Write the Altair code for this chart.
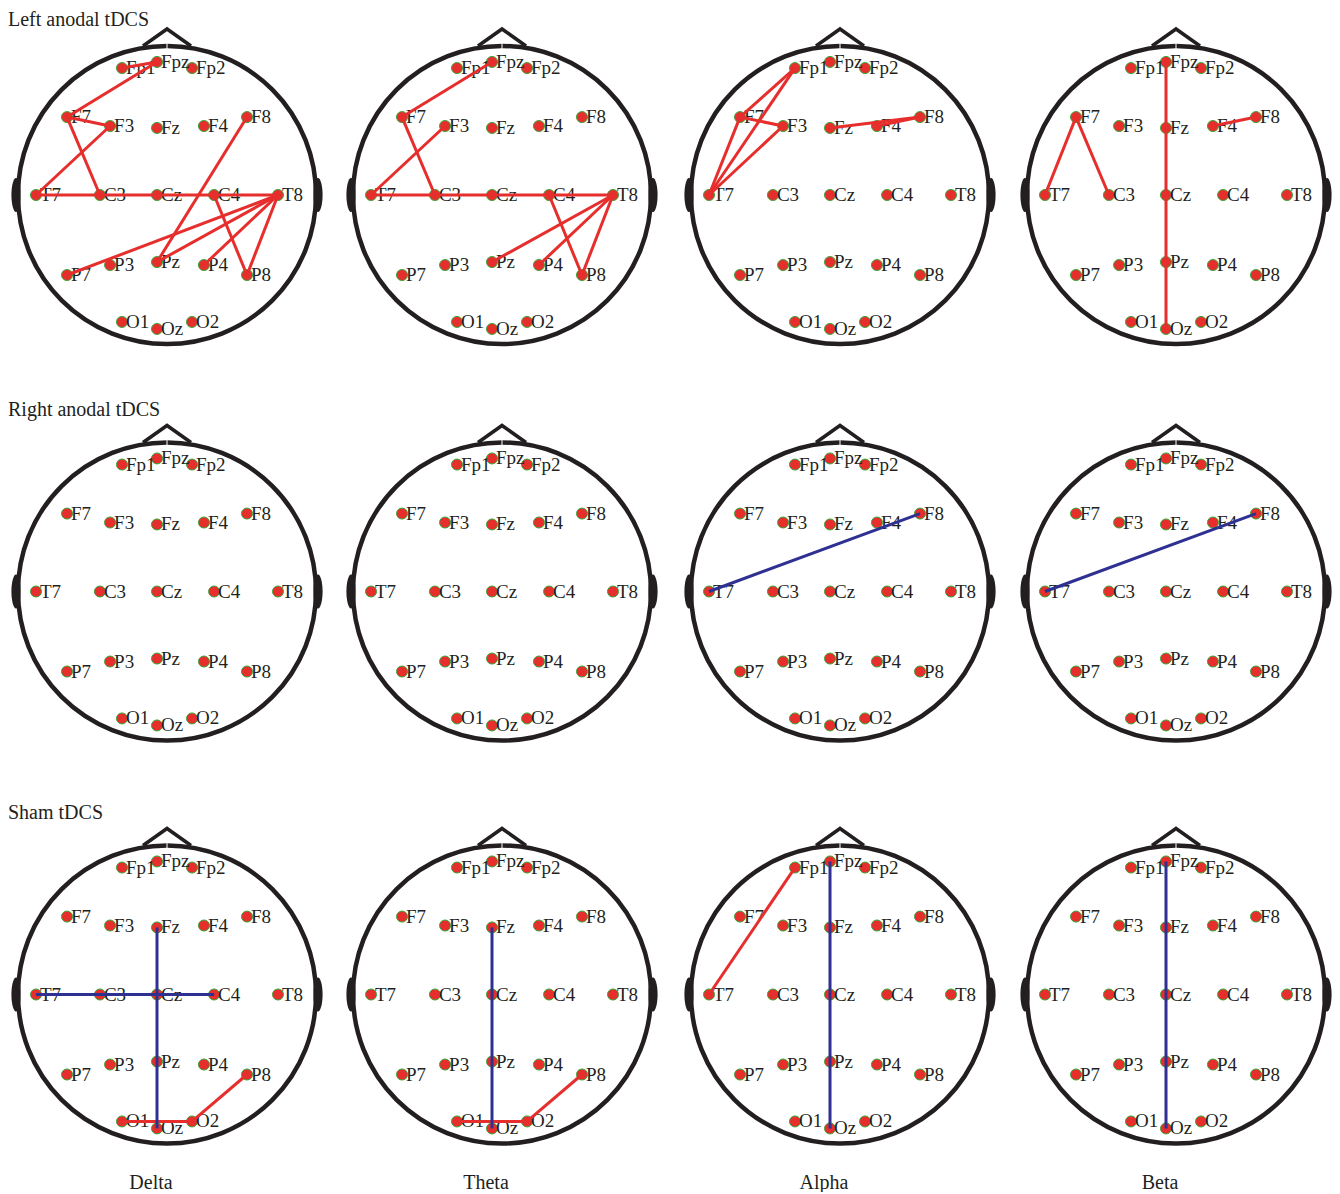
import altair as alt
import pandas as pd

# ------------------------------------------------------------------ data
ROW_TITLES = ["Left anodal tDCS", "Right anodal tDCS", "Sham tDCS"]
BANDS = ["Delta", "Theta", "Alpha", "Beta"]

ELECTRODES = ["Fp1", "Fpz", "Fp2",
              "F7", "F3", "Fz", "F4", "F8",
              "T7", "C3", "Cz", "C4", "T8",
              "P7", "P3", "Pz", "P4", "P8",
              "O1", "Oz", "O2"]
# montage positions, head radius = 1, origin at Cz, x to the right, y to the nose
EL_X = [-0.235, 0.0, 0.235,
        -0.604, -0.315, 0.0, 0.315, 0.604,
        -0.812, -0.383, 0.0, 0.383, 0.812,
        -0.604, -0.315, 0.0, 0.315, 0.604,
        -0.235, 0.0, 0.235]
EL_Y = [0.852, 0.893, 0.852,
        0.523, 0.463, 0.450, 0.463, 0.523,
        0.0, 0.0, 0.0, 0.0, 0.0,
        -0.537, -0.470, -0.450, -0.470, -0.537,
        -0.852, -0.899, -0.852]

# significant connections: condition row, band, electrode pair, direction
CONN_ROW = [0]*12 + [0]*8 + [0]*7 + [0]*4 + [1, 1] + [2]*4 + [2]*3 + [2]*2 + [2]
CONN_BAND = (["Delta"]*12 + ["Theta"]*8 + ["Alpha"]*7 + ["Beta"]*4 +
             ["Alpha", "Beta"] +
             ["Delta"]*4 + ["Theta"]*3 + ["Alpha"]*2 + ["Beta"])
CONN_A = ["Fp1", "F7", "F7", "F7", "F3", "T7", "F8", "C4", "T8", "T8", "T8", "T8",
          "F7", "F7", "F3", "T7", "C4", "T8", "T8", "T8",
          "Fp1", "Fp1", "F7", "F7", "F3", "Fz", "F4",
          "Fpz", "F7", "F7", "F4",
          "T7", "T7",
          "Fz", "T7", "O1", "O2",
          "Fz", "O1", "O2",
          "Fp1", "Fpz",
          "Fpz"]
CONN_B = ["Fpz", "Fpz", "F3", "C3", "T7", "T8", "Pz", "P8", "P7", "Pz", "P4", "P8",
          "Fpz", "C3", "T7", "T8", "P8", "Pz", "P4", "P8",
          "F7", "T7", "T7", "F3", "T7", "F8", "F8",
          "Oz", "T7", "C3", "F8",
          "F8", "F8",
          "Oz", "C4", "O2", "P8",
          "Oz", "O2", "P8",
          "T7", "Oz",
          "Oz"]
CONN_KIND = (["increase"]*31 + ["decrease"]*2 +
             ["decrease", "decrease", "increase", "increase"] +
             ["decrease", "increase", "increase"] +
             ["increase", "decrease"] +
             ["decrease"])

# ------------------------------------------------------------------ layout / style
W, H = 1324, 1184
R = 149                       # head radius (px)
HEAD_DX = 10                  # head centre offset from Cz (px)
COL_X = [149, 484, 822, 1158]  # Cz positions
ROW_Y = [187, 583.5, 986.5]

RED = "#e62e2d"
BLUE = "#2e3192"
INK = "#231f20"
GREEN = "#3aa63a"
FONT = "Liberation Serif"

pos = {n: (x, y) for n, x, y in zip(ELECTRODES, EL_X, EL_Y)}

el_rows, head_rows = [], []
for r in range(3):
    for c in range(4):
        cx, cy = COL_X[c], ROW_Y[r]
        head_rows.append(dict(panel=f"{r}{c}", hx=cx + HEAD_DX, hy=cy,
                              lx=cx + HEAD_DX - R - 2, rx=cx + HEAD_DX + R + 2,
                              ny=cy - R * 1.057, gy=cy - R * 1.025, gy2=cy - R * 0.98))
        for n, ex, ey in zip(ELECTRODES, EL_X, EL_Y):
            el_rows.append(dict(panel=f"{r}{c}", label=n, x=cx + R * ex, y=cy - R * ey))
el_df = pd.DataFrame(el_rows)
head_df = pd.DataFrame(head_rows)

conn_rows = []
for r, b, a, bb, k in zip(CONN_ROW, CONN_BAND, CONN_A, CONN_B, CONN_KIND):
    c = BANDS.index(b)
    cx, cy = COL_X[c], ROW_Y[r]
    conn_rows.append(dict(kind=k, order=0 if k == "increase" else 1,
                          x=cx + R * pos[a][0], y=cy - R * pos[a][1],
                          x2=cx + R * pos[bb][0], y2=cy - R * pos[bb][1]))
conn_df = pd.DataFrame(conn_rows).sort_values("order", kind="stable")

title_df = pd.DataFrame(dict(text=ROW_TITLES, x=[0]*3,
                             y=[max(ry - 176, 18) for ry in ROW_Y]))
band_df = pd.DataFrame(dict(text=BANDS, x=[cx - 6 for cx in COL_X], y=[1181]*4))

xs = alt.Scale(domain=[0, W], nice=False, zero=False)
ys = alt.Scale(domain=[0, H], nice=False, zero=False, reverse=True)


def X(f):
    return alt.X(f"{f}:Q", scale=xs, axis=None)


def Y(f):
    return alt.Y(f"{f}:Q", scale=ys, axis=None)


ear_path = ("M0,-1C0.146,-1 0.27,-0.552 0.27,0C0.27,0.552 0.146,1 0,1"
            "C-0.146,1 -0.27,0.552 -0.27,0C-0.27,-0.552 -0.146,-1 0,-1Z")
nose_path = "M-1,0.354L0,-0.354L1,0.354"

head = alt.Chart(head_df).mark_point(shape="circle", size=(2 * R) ** 2, filled=False,
                                     stroke=INK, strokeWidth=4.5, opacity=1
                                     ).encode(x=X("hx"), y=Y("hy"))
ear_l = alt.Chart(head_df).mark_point(shape=ear_path, size=34 ** 2, filled=True,
                                      fill=INK, strokeWidth=0, opacity=1
                                      ).encode(x=X("lx"), y=Y("hy"))
ear_r = alt.Chart(head_df).mark_point(shape=ear_path, size=34 ** 2, filled=True,
                                      fill=INK, strokeWidth=0, opacity=1
                                      ).encode(x=X("rx"), y=Y("hy"))
nose = alt.Chart(head_df).mark_point(shape=nose_path, size=48 ** 2, filled=False,
                                     stroke=INK, strokeWidth=3.5, strokeJoin="miter",
                                     opacity=1).encode(x=X("hx"), y=Y("ny"))
gap = alt.Chart(head_df).mark_rule(color="white", strokeWidth=1).encode(
    x=X("hx"), y=Y("gy"), y2="gy2")

dots = alt.Chart(el_df).mark_circle(size=121, color=RED, stroke=GREEN, strokeWidth=1,
                                    opacity=1).encode(x=X("x"), y=Y("y"))
labels = alt.Chart(el_df).mark_text(align="left", baseline="alphabetic", dx=4, dy=6,
                                    font=FONT, fontSize=19, color=INK
                                    ).encode(x=X("x"), y=Y("y"), text="label:N")
lines = alt.Chart(conn_df).mark_rule(strokeWidth=3).encode(
    x=X("x"), y=Y("y"), x2="x2", y2="y2",
    color=alt.Color("kind:N", scale=alt.Scale(domain=["increase", "decrease"],
                                              range=[RED, BLUE]), legend=None))
titles = alt.Chart(title_df).mark_text(align="left", baseline="alphabetic", font=FONT,
                                       fontSize=20, color=INK
                                       ).encode(x=X("x"), y=Y("y"), text="text:N")
bands = alt.Chart(band_df).mark_text(align="center", baseline="alphabetic", font=FONT,
                                     fontSize=20, color=INK
                                     ).encode(x=X("x"), y=Y("y"), text="text:N")

chart = alt.layer(head, ear_l, ear_r, nose, gap, dots, labels, lines, titles, bands
                  ).properties(width=W, height=H, padding=0,
                               autosize=alt.AutoSizeParams(type="none")
                               ).configure_view(stroke=None)

chart.save("out.html", embed_options={"renderer": "svg", "actions": False})
